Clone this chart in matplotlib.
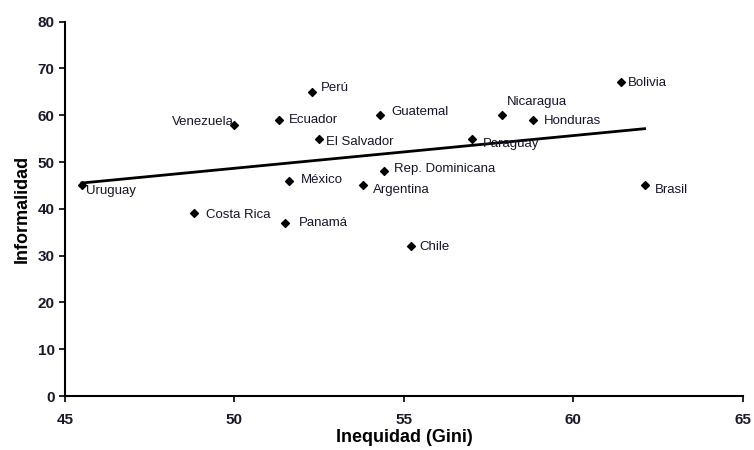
import numpy as np
import matplotlib
matplotlib.use("Agg")
import matplotlib.pyplot as plt

plt.rcParams['font.family'] = ['Liberation Sans', 'DejaVu Sans']

# Datos
paises = ["Uruguay", "Venezuela", "Ecuador", "Perú", "El Salvador", "México",
          "Costa Rica", "Panamá", "Guatemal", "Nicaragua", "Honduras", "Bolivia",
          "Paraguay", "Rep. Dominicana", "Argentina", "Brasil", "Chile"]
gini = [45.5, 50.0, 51.3, 52.3, 52.5, 51.6, 48.8, 51.5, 54.3, 57.9, 58.8, 61.4,
        57.0, 54.4, 53.8, 62.1, 55.2]
informalidad = [45, 58, 59, 65, 55, 46, 39, 37, 60, 60, 59, 67, 55, 48, 45, 45, 32]

# desplazamiento de cada etiqueta (pixeles) y alineacion
offsets = {"Uruguay": (4, -6, "left"), "Venezuela": (-1, 3, "right"),
           "Ecuador": (10, 0, "left"), "Perú": (8, 4, "left"),
           "El Salvador": (7, -3, "left"), "México": (12, 1, "left"),
           "Costa Rica": (12, -2, "left"), "Panamá": (14, 0, "left"),
           "Guatemal": (11, 3, "left"), "Nicaragua": (5, 13, "left"),
           "Honduras": (11, -1, "left"), "Bolivia": (7, -1, "left"),
           "Paraguay": (11, -5, "left"), "Rep. Dominicana": (10, 2, "left"),
           "Argentina": (10, -5, "left"), "Brasil": (10, -5, "left"),
           "Chile": (9, -1, "left")}

fig = plt.figure(figsize=(7.54, 4.5), dpi=100)
ax = fig.add_axes([0.0862, 0.12, 0.899, 0.832])

ax.scatter(gini, informalidad, marker="D", s=16, color="black", zorder=3)

# linea de tendencia
k, m = np.polyfit(gini, informalidad, 1)
xs = np.array([min(gini), max(gini)])
ax.plot(xs, k * xs + m, color="black", linewidth=2, zorder=2)

for p, x, y in zip(paises, gini, informalidad):
    dx, dy, ha = offsets[p]
    ax.annotate(p, (x, y), xytext=(dx, dy), textcoords="offset pixels",
                ha=ha, va="center", fontsize=9.5, color="#15152a")

ax.set_xlim(45, 65)
ax.set_ylim(0, 80)
ax.set_xticks([45, 50, 55, 60, 65])
ax.set_yticks(range(0, 81, 10))
ax.spines["top"].set_visible(False)
ax.spines["right"].set_visible(False)
ax.spines["left"].set_linewidth(1.5)
ax.spines["bottom"].set_linewidth(1.5)
ax.tick_params(direction="out", length=4, width=1.2, labelsize=11)
ax.tick_params(axis="x", pad=8)
for lab in ax.get_xticklabels() + ax.get_yticklabels():
    lab.set_fontweight("bold")
    lab.set_color("#1a1a2a")
ax.set_xlabel("Inequidad (Gini)", fontsize=13, fontweight="bold", labelpad=2)
ax.set_ylabel("Informalidad", fontsize=13, fontweight="bold", labelpad=5)

fig.savefig("out.png", dpi=100)
